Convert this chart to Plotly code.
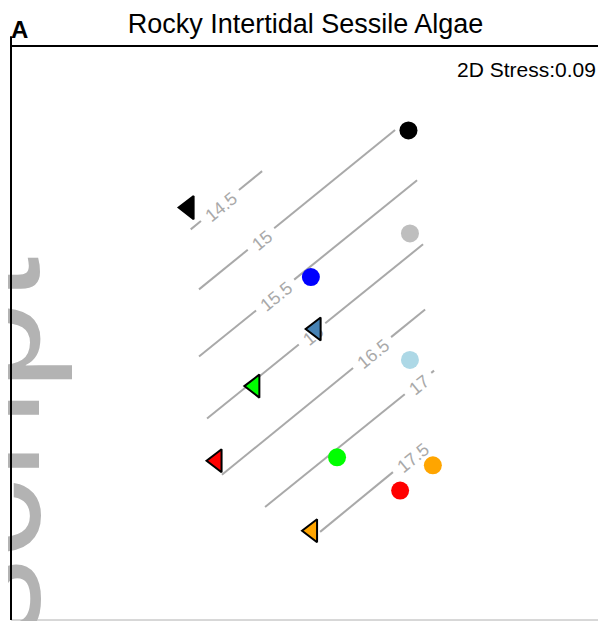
import plotly.graph_objects as go
import math

# ---------------- data ----------------
title_text = "Rocky Intertidal Sessile Algae"
panel_label = "A"
stress_text = "2D Stress:0.09"
watermark_text = "Manuscript"

# sites shown as circles
circle_x = [0.336, 0.341, 0.008, 0.341, 0.096, 0.418, 0.308]
circle_y = [0.706, 0.347, 0.195, -0.094, -0.433, -0.461, -0.549]
circle_colors = ["#000000", "#bebebe", "#0000ff", "#add8e6", "#00ff00", "#ffa500", "#ff0000"]

# sites shown as left triangles
tri_x = [-0.403, 0.024, -0.182, -0.309, 0.012]
tri_y = [0.437, 0.014, -0.185, -0.445, -0.689]
tri_colors = ["#000000", "#4682b4", "#00ff00", "#ff0000", "#ffa500"]

# fitted surface contours (linear), start/end and label position along line
contour_levels = [14.5, 15, 15.5, 16, 16.5, 17, 17.5]
contour_x0 = [-0.396, -0.368, -0.368, -0.341, -0.291, -0.146, 0.039]
contour_y0 = [0.361, 0.152, -0.082, -0.298, -0.494, -0.606, -0.693]
contour_x1 = [-0.156, 0.291, 0.365, 0.385, 0.392, 0.422, 0.408]
contour_y1 = [0.564, 0.707, 0.532, 0.309, 0.082, -0.131, -0.379]
label_frac = [0.41, 0.316, 0.349, 0.486, 0.739, 0.905, 0.836]

# ---------------- layout constants ----------------
OFF = 8                      # page body margin of the browser
WIN_W, WIN_H = 606, 621
W, H = WIN_W - OFF, WIN_H - OFF
# plot area in window pixels
PL, PT, PR, PB = 11, 46, 606, 620
ML, MT = PL - OFF, PT - OFF
MR, MB = W - (PR - OFF), H - (PB - OFF)
PW, PH = W - ML - MR, H - MT - MB
# data scale (pixels per unit) and data origin in window pixels
SX, SY = 297.5, 287.0
CX, CY = 308.5, 333.0
XR = [(PL - CX) / SX, (PR - CX) / SX]
YR = [(CY - PB) / SY, (CY - PT) / SY]
ppx, ppy = SX, SY
FONT = "Liberation Sans, Arial, sans-serif"
GRAY = "#a9a9a9"
LABEL_FS = 18


def pxx(px):
    """window pixel x -> paper x"""
    return (px - PL) / PW


def pxy(py):
    """window pixel y -> paper y"""
    return (PB - py) / PH


def text_width(s, fs):
    w = 0
    for ch in s:
        w += 0.278 if ch == "." else 0.556
    return w * fs


fig = go.Figure()

shapes = []
line_x, line_y = [], []
for lev, x0, y0, x1, y1, t in zip(contour_levels, contour_x0, contour_y0,
                                   contour_x1, contour_y1, label_frac):
    dxp = (x1 - x0) * ppx
    dyp = (y1 - y0) * ppy
    L = math.hypot(dxp, dyp)
    ang = -math.degrees(math.atan2(dyp, dxp))
    lab = f"{lev:g}"
    gh = (text_width(lab, LABEL_FS) / 2 + 7) / L
    for a, b in [(0.0, t - gh), (t + gh, 1.0)]:
        if (b - a) * L > 1:
            line_x += [x0 + a * (x1 - x0), x0 + b * (x1 - x0), None]
            line_y += [y0 + a * (y1 - y0), y0 + b * (y1 - y0), None]
    cx = x0 + t * (x1 - x0)
    cy = y0 + t * (y1 - y0)
    e = 0.01
    shapes.append(dict(
        type="line", xref="x", yref="y", layer="below",
        x0=cx - e * (x1 - x0), y0=cy - e * (y1 - y0),
        x1=cx + e * (x1 - x0), y1=cy + e * (y1 - y0),
        line=dict(color="rgba(0,0,0,0)", width=1),
        label=dict(text=lab, textposition="middle", textangle=ang,
                   xanchor="center", yanchor="middle", padding=0,
                   font=dict(family=FONT, size=LABEL_FS, color=GRAY)),
    ))

fig.add_trace(go.Scatter(x=line_x, y=line_y, mode="lines",
                         line=dict(color=GRAY, width=2), hoverinfo="skip",
                         showlegend=False))

fig.add_trace(go.Scatter(x=circle_x, y=circle_y, mode="markers",
                         marker=dict(symbol="circle", size=18, color=circle_colors,
                                     line=dict(width=0)),
                         showlegend=False))

fig.add_trace(go.Scatter(x=tri_x, y=tri_y, mode="markers",
                         marker=dict(symbol="triangle-left", size=20, color=tri_colors,
                                     line=dict(width=2, color="black")),
                         showlegend=False))

# frame: top line black, bottom edge light gray
shapes.append(dict(type="line", xref="paper", yref="paper", x0=0, x1=1.05, y0=1, y1=1,
                   layer="above", line=dict(color="black", width=2)))
shapes.append(dict(type="line", xref="paper", yref="paper", x0=0, x1=1.05, y0=0, y1=0,
                   layer="above", line=dict(color="#b0b0b0", width=1)))

annotations = []
# watermark
annotations.append(dict(text=watermark_text, xref="paper", yref="paper",
                        x=pxx(75), y=pxy(254),
                        xanchor="right", yanchor="top", textangle=-90,
                        showarrow=False,
                        font=dict(family=FONT, size=160, color="#b3b3b3")))
# left frame line drawn after the watermark so it sits on top
annotations.append(dict(text="", xref="paper", yref="paper", x=0, y=-0.05,
                        ax=0, ay=-(PH + 40), showarrow=True, arrowhead=0,
                        arrowwidth=2, arrowcolor="black", standoff=0,
                        startstandoff=0))
annotations.append(dict(text=panel_label, xref="paper", yref="paper",
                        x=pxx(9), y=pxy(29.7),
                        xanchor="left", yanchor="middle", showarrow=False,
                        font=dict(family=FONT, size=24, color="black", weight="bold")))
annotations.append(dict(text=stress_text, xref="paper", yref="paper",
                        x=pxx(598), y=pxy(69.5),
                        xanchor="right", yanchor="middle", showarrow=False,
                        font=dict(family=FONT, size=21, color="black")))

fig.update_layout(
    width=W, height=H,
    margin=dict(l=ML, r=MR, t=MT, b=MB, pad=0),
    paper_bgcolor="white", plot_bgcolor="white",
    title=dict(text=title_text, x=(305.5 - OFF) / W, xanchor="center", xref="container",
               y=1 - (24 - OFF) / H, yanchor="middle", yref="container",
               font=dict(family=FONT, size=27, color="black")),
    xaxis=dict(range=XR, showgrid=False, zeroline=False, showticklabels=False,
               showline=False, ticks=""),
    yaxis=dict(range=YR, showgrid=False, zeroline=False, showticklabels=False,
               showline=False, ticks=""),
    shapes=shapes,
    annotations=annotations,
    showlegend=False,
)

fig.write_html("out.html")
